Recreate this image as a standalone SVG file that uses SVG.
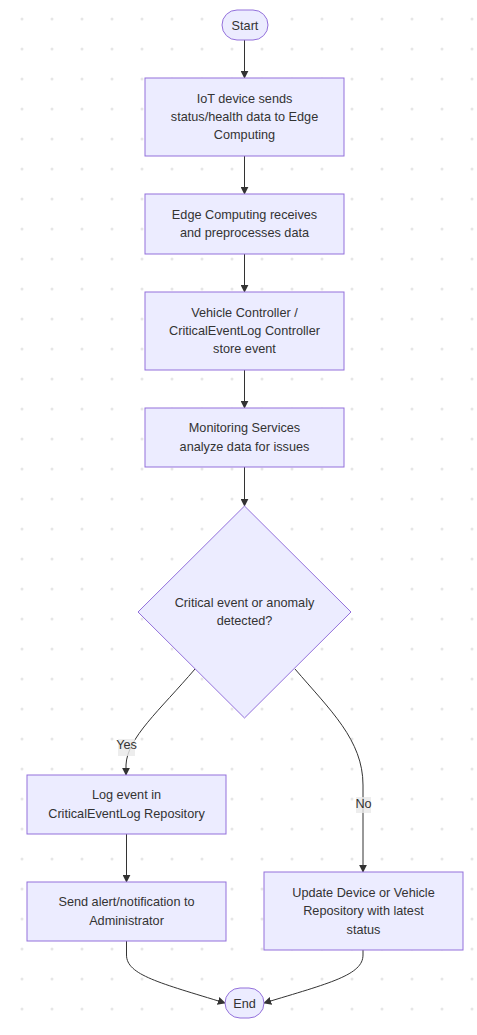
<svg xmlns="http://www.w3.org/2000/svg" width="477" height="1035" viewBox="0 0 477 1035">
<style>
.n{fill:#ECECFF;stroke:#9370DB;stroke-width:1}
.t{font-family:"Liberation Sans",Arial,sans-serif;font-size:12.7px;fill:#333;text-anchor:middle}
.e{fill:none;stroke:#333;stroke-width:1}
.lb{fill:#e8e8e8;opacity:0.8}
</style>
<defs>
<pattern id="dots" x="7" y="4" width="30" height="30" patternUnits="userSpaceOnUse">
<circle cx="15" cy="15" r="1.5" fill="#e6e6e6"/>
</pattern>
<marker id="arr" viewBox="0 0 10 10" refX="9" refY="5" markerUnits="userSpaceOnUse" markerWidth="8" markerHeight="8" orient="auto">
<path d="M0,0 L10,5 L0,10 z" fill="#333"/>
</marker>
</defs>
<rect width="477" height="1035" fill="#fff"/>
<rect width="477" height="1035" fill="url(#dots)"/>
<g id="edges">
<path class="e" d="M244.5,40 L244.5,78" marker-end="url(#arr)"/>
<path class="e" d="M244.5,156 L244.5,194" marker-end="url(#arr)"/>
<path class="e" d="M244.5,254 L244.5,292" marker-end="url(#arr)"/>
<path class="e" d="M244.5,370 L244.5,408" marker-end="url(#arr)"/>
<path class="e" d="M244.5,467 L244.5,506" marker-end="url(#arr)"/>
<path class="e" d="M195,669 C160,710 127,738 126,765 L126,775" marker-end="url(#arr)"/>
<path class="e" d="M295,669 C330,710 363,740 363,785 L363,872" marker-end="url(#arr)"/>
<path class="e" d="M126.5,834 L126.5,882" marker-end="url(#arr)"/>
<path class="e" d="M126.5,941 L126.5,955 C126.5,975 160,983 225,1003" marker-end="url(#arr)"/>
<path class="e" d="M363,950 L363,955 C363,975 330,983 264,1003" marker-end="url(#arr)"/>
<rect class="lb" x="118" y="739" width="17" height="17"/>
<text class="t" x="126.5" y="749">Yes</text>
<rect class="lb" x="356" y="797" width="15" height="16"/>
<text class="t" x="363.5" y="808">No</text>
</g>
<g id="start">
<rect class="n" x="222" y="10" width="46" height="30" rx="15"/>
<text class="t" x="245" y="29.5">Start</text>
</g>
<g id="iot">
<rect class="n" x="145" y="78" width="199" height="78"/>
<text class="t" x="244.5" y="103">IoT device sends</text>
<text class="t" x="244.5" y="121">status/health data to Edge</text>
<text class="t" x="244.5" y="139">Computing</text>
</g>
<g id="edge">
<rect class="n" x="145" y="194" width="199" height="60"/>
<text class="t" x="244.5" y="218.5">Edge Computing receives</text>
<text class="t" x="244.5" y="237">and preprocesses data</text>
</g>
<g id="controller">
<rect class="n" x="145" y="292" width="199" height="78"/>
<text class="t" x="244.5" y="317">Vehicle Controller /</text>
<text class="t" x="244.5" y="335">CriticalEventLog Controller</text>
<text class="t" x="244.5" y="353">store event</text>
</g>
<g id="monitoring">
<rect class="n" x="145" y="408" width="199" height="59"/>
<text class="t" x="244.5" y="432">Monitoring Services</text>
<text class="t" x="244.5" y="451">analyze data for issues</text>
</g>
<g id="decision">
<polygon class="n" points="244.5,506 351,612 244.5,718 138,612"/>
<text class="t" x="244.5" y="607">Critical event or anomaly</text>
<text class="t" x="244.5" y="625">detected?</text>
</g>
<g id="log">
<rect class="n" x="27" y="775" width="199" height="59"/>
<text class="t" x="126.5" y="799">Log event in</text>
<text class="t" x="126.5" y="818">CriticalEventLog Repository</text>
</g>
<g id="alert">
<rect class="n" x="27" y="882" width="199" height="59"/>
<text class="t" x="126.5" y="906">Send alert/notification to</text>
<text class="t" x="126.5" y="925">Administrator</text>
</g>
<g id="update">
<rect class="n" x="264" y="872" width="199" height="78"/>
<text class="t" x="363.5" y="897">Update Device or Vehicle</text>
<text class="t" x="363.5" y="915">Repository with latest</text>
<text class="t" x="363.5" y="934">status</text>
</g>
<g id="end">
<rect class="n" x="225" y="988" width="39" height="30" rx="15"/>
<text class="t" x="244.5" y="1007.5">End</text>
</g>
</svg>
